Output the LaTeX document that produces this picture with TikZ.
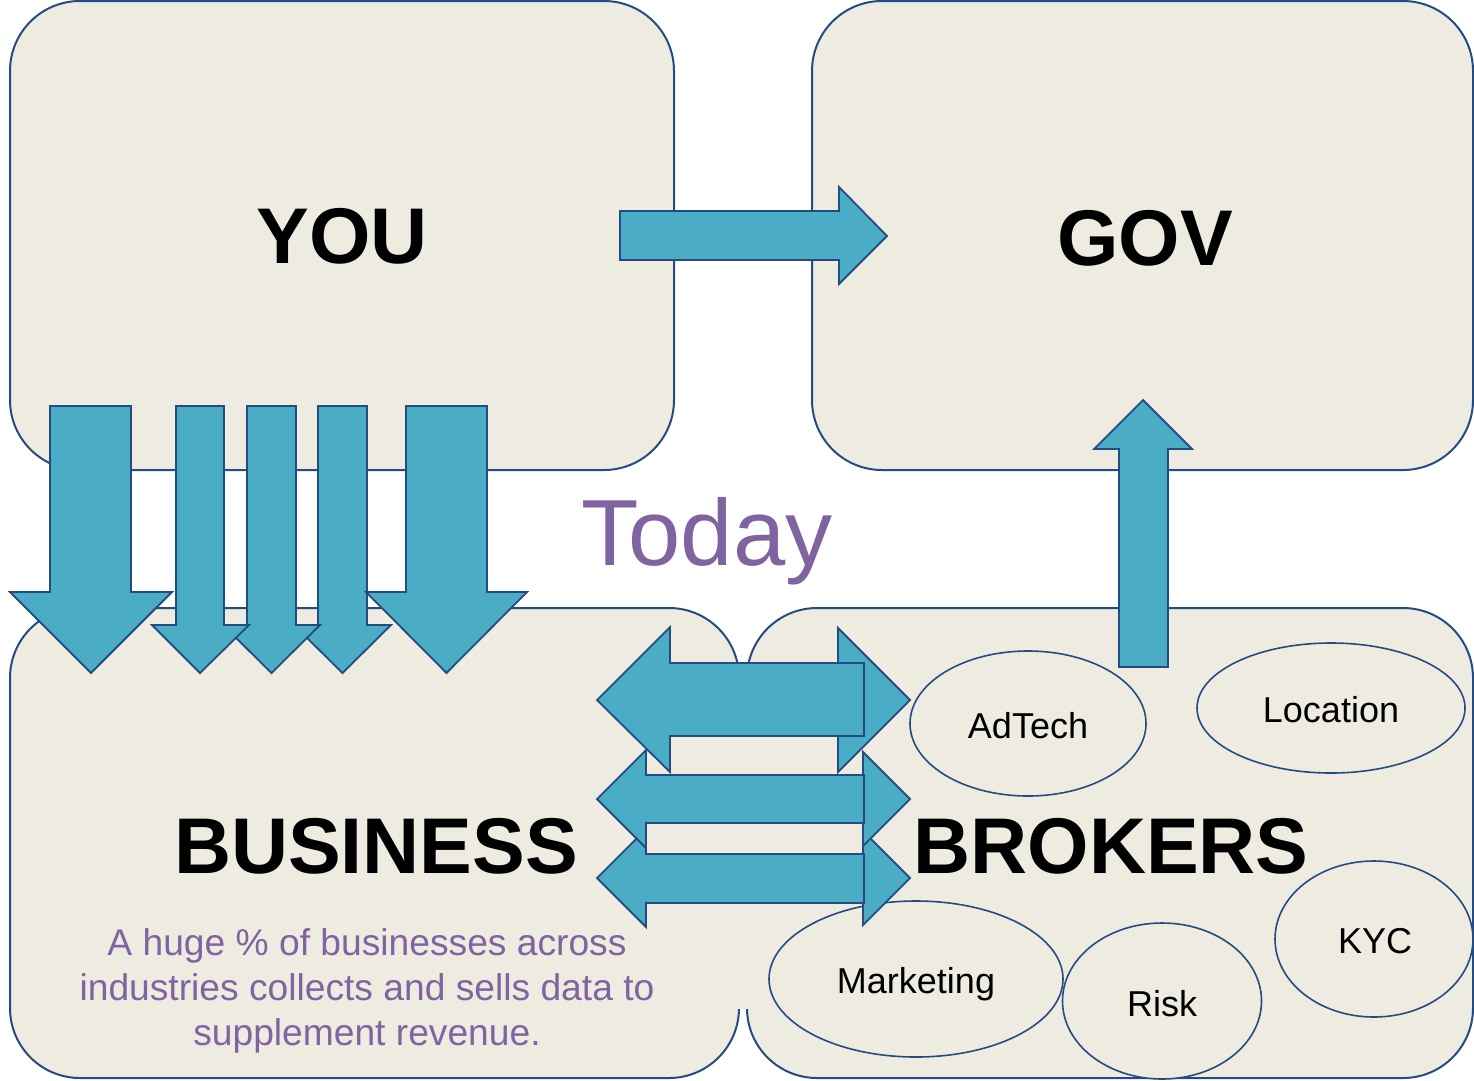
\documentclass[tikz,border=0pt]{standalone}
\usepackage{fontspec}
\setmainfont{Liberation Sans}
\usetikzlibrary{shapes.geometric}
\definecolor{boxfill}{HTML}{EEECE1}
\definecolor{boxline}{RGB}{36,76,130}
\definecolor{arrowfill}{HTML}{4BACC6}
\definecolor{purp}{HTML}{8064A2}
\tikzset{
  bigbox/.style={fill=boxfill,draw=boxline,line width=2pt,rounded corners=70pt},
  blockarrow/.style={fill=arrowfill,draw=boxline,line width=1.8pt,line join=miter},
  bigtitle/.style={font=\fontsize{79}{79}\selectfont\bfseries,text=black,inner sep=0pt,anchor=base},
  oval/.style={ellipse,draw=boxline,line width=1.6pt,fill=boxfill,inner sep=0pt},
  ovallabel/.style={font=\fontsize{36}{36}\selectfont,text=black,inner sep=0pt,anchor=base},
  purpletext/.style={font=\fontsize{37.2}{37.2}\selectfont,text=purp,inner sep=0pt,anchor=base},
}
\begin{document}
\begin{tikzpicture}[x=1pt,y=-1pt]
\useasboundingbox (0,0) rectangle (1474,1080);
% boxes
\path[bigbox] (10,1) rectangle (674,470);
\path[bigbox] (812,1) rectangle (1473,470);
\path[bigbox] (10,608) rectangle (739,1078);
\path[bigbox] (747,608) rectangle (1473,1078);
% beige patch hiding the box edges between the two lower boxes
\fill[boxfill] (736,680) rectangle (750,1009);
% titles
\node[bigtitle] (you) at (342,263) {YOU};
\node[bigtitle] (gov) at (1145,265) {GOV};
\node[bigtitle] (business) at (376,873) {BUSINESS};
\node[bigtitle] (brokers) at (1111,873) {BROKERS};
\node[font=\fontsize{94}{94}\selectfont,text=purp,inner sep=0pt,anchor=base] (today) at (707,565) {Today};
% paragraph
\node[purpletext] (p1) at (367,955) {A huge \% of businesses across};
\node[purpletext] (p2) at (367,1000) {industries collects and sells data to};
\node[purpletext] (p3) at (367,1045) {supplement revenue.};
% ellipses
\node[oval,minimum width=236pt,minimum height=145pt] (adtech) at (1028,723.5) {};
\node[oval,minimum width=268pt,minimum height=130pt] (location) at (1331,708) {};
\node[oval,minimum width=294pt,minimum height=156pt] (marketing) at (916,979) {};
\node[oval,minimum width=199pt,minimum height=156pt] (risk) at (1162,1001) {};
\node[oval,minimum width=198pt,minimum height=156pt] (kyc) at (1374,939) {};
\node[ovallabel] (adtechl) at (1028,738) {AdTech};
\node[ovallabel] (locationl) at (1331,722) {Location};
\node[ovallabel] (marketingl) at (916,993) {Marketing};
\node[ovallabel] (riskl) at (1162,1016) {Risk};
\node[ovallabel] (kycl) at (1375,953) {KYC};
% YOU -> GOV arrow
\draw[blockarrow] (620,211) -- (839,211) -- (839,187) -- (887,236) -- (839,284) -- (839,260) -- (620,260) -- cycle;
% up arrow to GOV
\draw[blockarrow] (1119,667) -- (1119,449) -- (1094,449) -- (1143,400) -- (1192,449) -- (1168,449) -- (1168,667) -- cycle;
% down arrows YOU -> BUSINESS
\draw[blockarrow] (318,406) -- (367,406) -- (367,625) -- (391,625) -- (342.5,673) -- (294,625) -- (318,625) -- cycle;
\draw[blockarrow] (247,406) -- (296,406) -- (296,625) -- (320,625) -- (271.5,673) -- (223,625) -- (247,625) -- cycle;
\draw[blockarrow] (176,406) -- (224,406) -- (224,625) -- (249,625) -- (200,673) -- (152,625) -- (176,625) -- cycle;
\draw[blockarrow] (50,406) -- (131,406) -- (131,592) -- (172,592) -- (91,673) -- (10,592) -- (50,592) -- cycle;
\draw[blockarrow] (406,406) -- (487,406) -- (487,592) -- (527,592) -- (446.5,673) -- (366,592) -- (406,592) -- cycle;
% double arrows BUSINESS <-> BROKERS (row 3)
\draw[blockarrow] (700,854) -- (863,854) -- (863,831) -- (910,878) -- (863,925) -- (863,903) -- (700,903) -- cycle;
\draw[blockarrow] (597,878) -- (646,829) -- (646,854) -- (864,854) -- (864,903) -- (646,903) -- (646,927) -- cycle;
% row 2
\draw[blockarrow] (700,775) -- (863,775) -- (863,752) -- (910,799) -- (863,846) -- (863,823) -- (700,823) -- cycle;
\draw[blockarrow] (597,799) -- (646,750) -- (646,775) -- (864,775) -- (864,823) -- (646,823) -- (646,848) -- cycle;
% row 1
\draw[blockarrow] (700,663) -- (838,663) -- (838,628) -- (910,700) -- (838,772) -- (838,736) -- (700,736) -- cycle;
\draw[blockarrow] (597,700) -- (670,627) -- (670,663) -- (864,663) -- (864,736) -- (670,736) -- (670,772) -- cycle;
\end{tikzpicture}
\end{document}
